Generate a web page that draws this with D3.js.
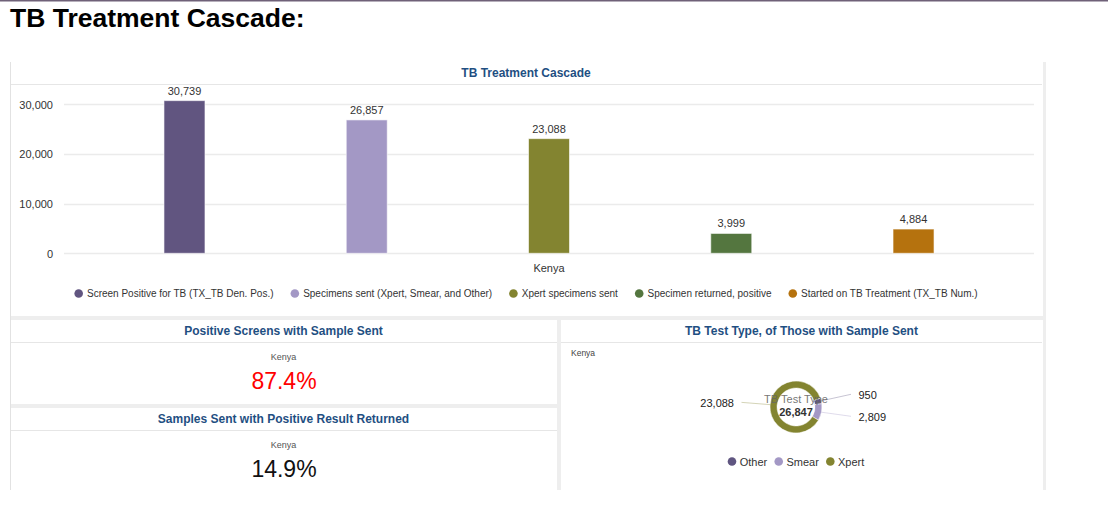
<!DOCTYPE html>
<html>
<head>
<meta charset="utf-8">
<script src="https://cdn.jsdelivr.net/npm/d3@7/dist/d3.min.js"></script>
<style>
  html, body { margin: 0; padding: 0; background: #fff; }
  svg { display: block; font-family: "Liberation Sans", Arial, sans-serif; }
</style>
</head>
<body>
<svg id="dash" width="1108" height="521"></svg>
<script>
// ---- data ----
const categories = ["Kenya"];
const seriesNames = [
  "Screen Positive for TB (TX_TB Den. Pos.)",
  "Specimens sent (Xpert, Smear, and Other)",
  "Xpert specimens sent",
  "Specimen returned, positive",
  "Started on TB Treatment (TX_TB Num.)"
];
const seriesValues = [30739, 26857, 23088, 3999, 4884];
const seriesColors = ["#615580", "#a398c5", "#838430", "#54763f", "#b5720e"];
const yTicks = [0, 10000, 20000, 30000];

const testTypes = ["Other", "Smear", "Xpert"];
const testTypeValues = [950, 2809, 23088];
const testTypeColors = ["#5f5580", "#a398c5", "#838430"];

const kpiTitles = ["Positive Screens with Sample Sent", "Samples Sent with Positive Result Returned"];
const kpiValues = [87.4, 14.9];
const kpiColors = ["#ff0000", "#111111"];

// ---- page frame ----
const svg = d3.select("#dash");
const titleBlue = "#1f4f82";
const lineGray = "#e6e6e6";
const bandGray = "#eeeeee";

svg.append("rect").attr("x", 0).attr("y", 0).attr("width", 1108).attr("height", 1.5).attr("fill", "#6f6178");
svg.append("text").attr("x", 10).attr("y", 26.5)
  .attr("font-size", 26.5).attr("font-weight", "bold").attr("fill", "#000")
  .text("TB Treatment Cascade:");

// panel borders and separators
svg.append("rect").attr("x", 10).attr("y", 62).attr("width", 1).attr("height", 428).attr("fill", "#e2e2e2");
svg.append("rect").attr("x", 1043).attr("y", 62).attr("width", 3).attr("height", 428).attr("fill", bandGray);
svg.append("rect").attr("x", 11).attr("y", 316).attr("width", 1032).attr("height", 4).attr("fill", bandGray);
svg.append("rect").attr("x", 557).attr("y", 320).attr("width", 4).attr("height", 170).attr("fill", bandGray);
svg.append("rect").attr("x", 11).attr("y", 404).attr("width", 546).attr("height", 4).attr("fill", bandGray);
[[11, 1042, 84], [11, 557, 342], [561, 1042, 342], [11, 557, 430]].forEach(([x1, x2, yy]) => {
  svg.append("line").attr("x1", x1).attr("x2", x2).attr("y1", yy + 0.5).attr("y2", yy + 0.5)
    .attr("stroke", lineGray).attr("stroke-width", 1);
});

function panelTitle(text, cx, baseline) {
  svg.append("text").attr("x", cx).attr("y", baseline).attr("text-anchor", "middle")
    .attr("font-size", 12).attr("font-weight", "bold").attr("fill", titleBlue).text(text);
}

// ---- cascade column chart ----
panelTitle("TB Treatment Cascade", 526, 77);

const plotLeft = 64, plotRight = 1034;
const y = d3.scaleLinear().domain([0, 30000]).range([253.3, 104.3]);
const x0 = d3.scaleBand().domain(categories).range([plotLeft, plotRight]).paddingInner(0).paddingOuter(0.0322);
const x1 = d3.scaleBand().domain(seriesNames).range([0, x0.bandwidth()]).paddingInner(0.775).paddingOuter(0.3875);

const chart = svg.append("g");
chart.selectAll("line.grid").data(yTicks).join("line")
  .attr("class", "grid")
  .attr("x1", plotLeft).attr("x2", plotRight)
  .attr("y1", d => Math.round(y(d)) + 0.5).attr("y2", d => Math.round(y(d)) + 0.5)
  .attr("stroke", "#ebebeb").attr("stroke-width", 1.5);

const yAxis = d3.axisLeft(y).tickValues(yTicks).tickFormat(d3.format(",")).tickSize(0).tickPadding(0);
const yg = chart.append("g").attr("transform", "translate(53,0)").call(yAxis);
yg.select(".domain").remove();
yg.selectAll("text").attr("font-size", 11).attr("fill", "#333").attr("font-family", "Liberation Sans, Arial, sans-serif")
  .attr("dy", "0.36em");

const groups = chart.selectAll("g.cat").data(categories).join("g")
  .attr("class", "cat").attr("transform", d => `translate(${x0(d)},0)`);

const barData = seriesNames.map((n, i) => ({ name: n, value: seriesValues[i], color: seriesColors[i] }));
groups.selectAll("rect").data(barData).join("rect")
  .attr("x", d => x1(d.name)).attr("width", x1.bandwidth())
  .attr("y", d => y(d.value)).attr("height", d => y(0) - y(d.value))
  .attr("fill", d => d.color).attr("stroke", "#ffffff").attr("stroke-opacity", 0.6).attr("stroke-width", 1);

groups.selectAll("text.val").data(barData).join("text")
  .attr("class", "val")
  .attr("x", d => x1(d.name) + x1.bandwidth() / 2).attr("y", d => y(d.value) - 6)
  .attr("text-anchor", "middle").attr("font-size", 11).attr("fill", "#333")
  .text(d => d3.format(",")(d.value));

chart.selectAll("text.cat").data(categories).join("text")
  .attr("class", "cat")
  .attr("x", d => x0(d) + x0.bandwidth() / 2).attr("y", 271.5)
  .attr("text-anchor", "middle").attr("font-size", 11).attr("fill", "#333").text(d => d);

// horizontal legend: symbol, label, then a fixed gap to the next symbol
function layoutLegend(items, center, r, textOff, gap) {
  const widths = [];
  items.select("text").each(function () { widths.push(this.getComputedTextLength()); });
  const total = r + widths.reduce((a, w) => a + textOff + w, 0) + gap * (widths.length - 1);
  let cur = center - total / 2 + r;
  items.each(function (d, i) {
    d3.select(this).select("circle").attr("cx", cur);
    d3.select(this).select("text").attr("x", cur + textOff);
    cur += textOff + widths[i] + gap;
  });
}

const legend = svg.append("g");
const legItems = legend.selectAll("g").data(barData).join("g");
legItems.append("circle").attr("r", 4.3).attr("cy", 293.5).attr("fill", d => d.color);
legItems.append("text").attr("y", 297).attr("font-size", 10).attr("fill", "#333").text(d => d.name);
layoutLegend(legItems, 526, 4.3, 8.3, 21.3);

// ---- KPI tiles ----
const kpiLayout = [{ top: 320 }, { top: 408 }];
kpiTitles.forEach((t, i) => {
  const top = kpiLayout[i].top;
  panelTitle(t, 283.5, top + 14.5);
  svg.append("text").attr("x", 283.5).attr("y", top + 40).attr("text-anchor", "middle")
    .attr("font-size", 9).attr("fill", "#555").text(categories[0]);
  svg.append("text").attr("x", 284).attr("y", top + 68.5).attr("text-anchor", "middle")
    .attr("font-size", 23).attr("fill", kpiColors[i]).text(d3.format(".1f")(kpiValues[i]) + "%");
});

// ---- test type donut ----
panelTitle("TB Test Type, of Those with Sample Sent", 801.5, 334.5);
svg.append("text").attr("x", 571).attr("y", 355.5).attr("font-size", 8.5).attr("fill", "#444").text(categories[0]);

const cx = 796, cy = 407, rOuter = 26, rInner = 19;
const donutData = testTypes.map((n, i) => ({ name: n, value: testTypeValues[i], color: testTypeColors[i] }));
const total = d3.sum(testTypeValues);
const startA = 70 * Math.PI / 180;
const pie = d3.pie().value(d => d.value).sort(null).startAngle(startA).endAngle(startA + 2 * Math.PI);
const arcs = pie(donutData);
const arcGen = d3.arc().innerRadius(rInner).outerRadius(rOuter);
const donut = svg.append("g").attr("transform", `translate(${cx},${cy})`);
donut.selectAll("path").data(arcs).join("path").attr("d", arcGen).attr("fill", d => d.data.color)
  .attr("stroke", "#fff").attr("stroke-width", 0.5);

// label placement: natural position from slice angle, then spread on each side
const labR = 40, minGap = 22;
const labs = arcs.map(a => {
  const mid = (a.startAngle + a.endAngle) / 2;
  const right = Math.sin(mid) > 0;
  return { a, mid, right, y: -labR * Math.cos(mid) };
});
[true, false].forEach(side => {
  const s = labs.filter(l => l.right === side).sort((p, q) => p.y - q.y);
  for (let k = 1; k < s.length; k++) {
    if (s[k].y - s[k - 1].y < minGap) {
      const c = (s[k].y + s[k - 1].y) / 2;
      s[k - 1].y = c - minGap / 2; s[k].y = c + minGap / 2;
    }
  }
});
labs.forEach(l => {
  const sx = rOuter * Math.sin(l.mid), sy = -rOuter * Math.cos(l.mid);
  const ex = l.right ? 55 : -54.5;
  donut.append("line").attr("x1", sx).attr("y1", sy).attr("x2", ex).attr("y2", l.y - 1)
    .attr("stroke", l.a.data.color).attr("stroke-opacity", 0.35).attr("stroke-width", 1);
  donut.append("text").attr("x", l.right ? 62.5 : -62).attr("y", l.y + 4)
    .attr("text-anchor", l.right ? "start" : "end").attr("font-size", 11).attr("fill", "#222")
    .text(d3.format(",")(l.a.data.value));
});

donut.append("text").attr("y", -4).attr("text-anchor", "middle").attr("font-size", 11).attr("fill", "#666")
  .attr("fill-opacity", 0.9).text("TB Test Type");
donut.append("text").attr("y", 9).attr("text-anchor", "middle").attr("font-size", 11).attr("font-weight", "bold")
  .attr("fill", "#333").text(d3.format(",")(total));

// donut legend
const dLeg = svg.append("g");
const dItems = dLeg.selectAll("g").data(donutData).join("g");
dItems.append("circle").attr("r", 4.3).attr("cy", 461.5).attr("fill", d => d.color);
dItems.append("text").attr("y", 465.5).attr("font-size", 11).attr("fill", "#333").text(d => d.name);
layoutLegend(dItems, cx, 4.3, 7.7, 11.5);
</script>
</body>
</html>
